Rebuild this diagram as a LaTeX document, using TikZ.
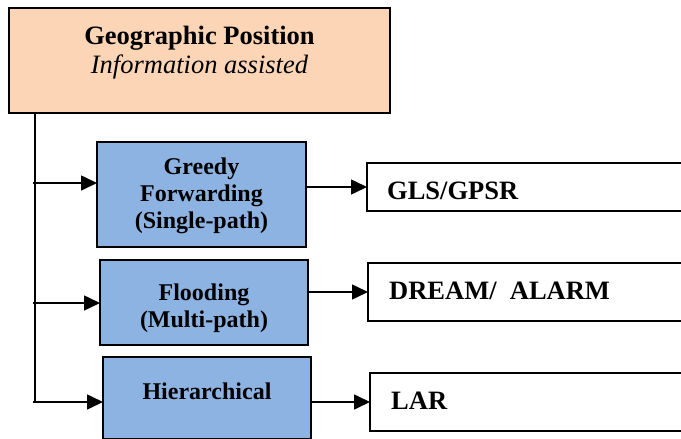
\documentclass[tikz,border=0pt]{standalone}
\usepackage{fontspec}
\setmainfont{Liberation Serif}
\usetikzlibrary{arrows.meta,calc}
\definecolor{peachfill}{RGB}{251,213,181}
\definecolor{bluefill}{RGB}{141,179,226}
\begin{document}
\begin{tikzpicture}[x=1pt,y=-1pt,
  boxline/.style={draw=black,line width=2pt,inner sep=0pt,outer sep=0pt},
  rootbox/.style={boxline,fill=peachfill},
  methodbox/.style={boxline,fill=bluefill},
  protobox/.style={boxline,fill=white},
  bigtxt/.style={inner sep=0pt,font=\fontsize{26.5}{30}\selectfont},
  midtxt/.style={inner sep=0pt,align=center,font=\fontsize{24}{27}\selectfont\bfseries},
  link/.style={line width=1.6pt},
  arr/.style={link,-{Triangle[length=16pt,width=15pt]}}]
\useasboundingbox (0,0) rectangle (681,439);
\clip (0,0) rectangle (681,439);

% root box
\node[rootbox,minimum width=381pt,minimum height=105pt] (geo) at (199.5,60) {};
\node[bigtxt,anchor=base] (geoTitle) at (199.5,44) {\bfseries Geographic Position};
\node[bigtxt,anchor=base] (geoSub) at (199.5,73) {\itshape Information assisted};

% routing strategies
\node[methodbox,minimum width=209pt,minimum height=105pt] (greedy) at (201.5,194.5) {};
\node[midtxt,anchor=north] (greedyTxt) at (201.5,158) {Greedy\\Forwarding\\(Single-path)};

\node[methodbox,minimum width=208pt,minimum height=85pt] (flood) at (204,302.5) {};
\node[midtxt,anchor=north] (floodTxt) at (204,284) {Flooding\\(Multi-path)};

\node[methodbox,minimum width=208pt,minimum height=82pt] (hier) at (207,398) {};
\node[midtxt,anchor=base] (hierTxt) at (207,399) {Hierarchical};

% protocols
\node[protobox,minimum width=333pt,minimum height=48pt] (gls) at (533.5,187) {};
\node[bigtxt,anchor=base west] (glsTxt) at (387,199) {\bfseries GLS/GPSR};

\node[protobox,minimum width=332pt,minimum height=58pt] (dream) at (534,292) {};
\node[bigtxt,anchor=base west] (dreamTxt) at (389,299) {\bfseries DREAM/~ ALARM};

\node[protobox,minimum width=330pt,minimum height=58pt] (lar) at (535,402) {};
\node[bigtxt,anchor=base west] (larTxt) at (391,409) {\bfseries LAR};

% trunk and branches
\coordinate (t1) at (35,183);
\coordinate (t2) at (35,303);
\coordinate (t3) at (35,402);
\draw[link] (geo.south -| t1) -- (t3);
\draw[arr] ([xshift=-2pt]t1) -- (t1 -| greedy.west);
\draw[arr] ([xshift=-2pt]t2) -- (t2 -| flood.west);
\draw[arr] ([xshift=-2pt]t3) -- (t3 -| hier.west);

% strategy to protocol
\draw[arr] (greedy.east |- gls.west) -- (gls.west);
\draw[arr] (flood.east |- dream.west) -- (dream.west);
\draw[arr] (hier.east |- lar.west) -- (lar.west);
\end{tikzpicture}
\end{document}
